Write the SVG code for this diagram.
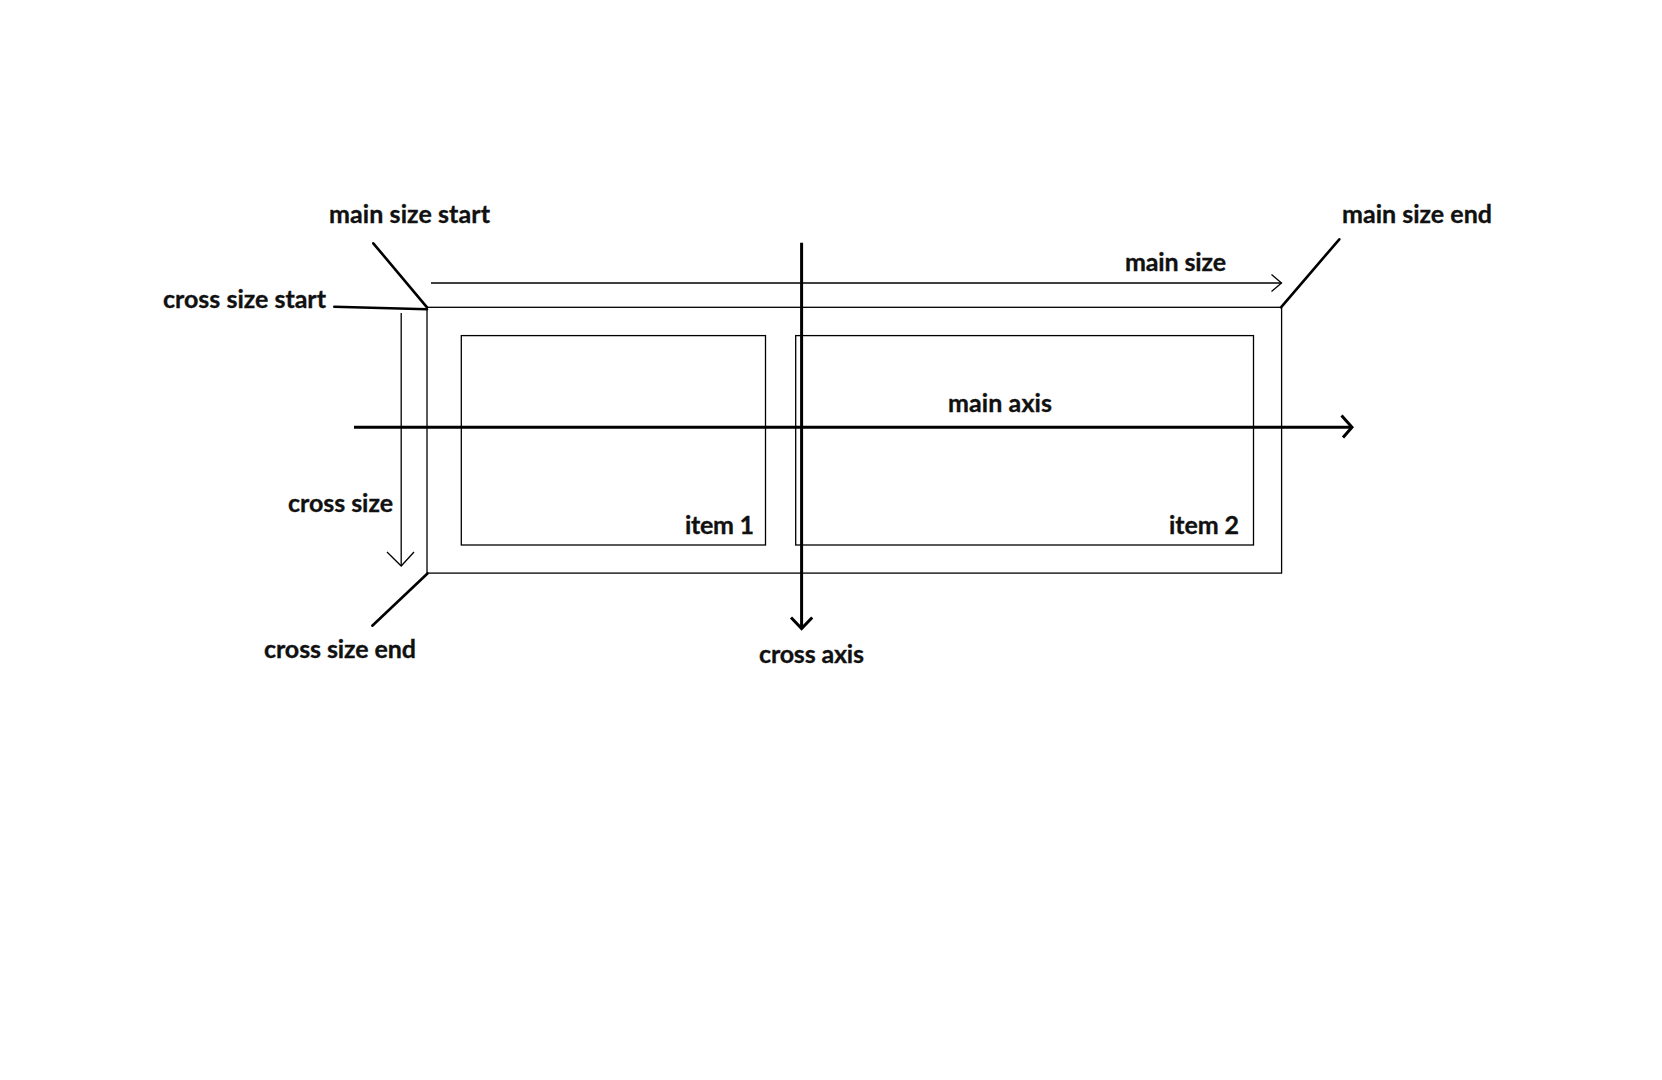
<svg xmlns="http://www.w3.org/2000/svg" width="1662" height="1080" viewBox="0 0 1662 1080">
<style>
.t{font-family:Lato,"Open Sans","Liberation Sans",sans-serif;font-weight:bold;font-size:25px;fill:#111;stroke:#111;stroke-width:0.35}
.thin{stroke:#000;stroke-width:1.3;fill:none}
.thick{stroke:#000;stroke-width:3;fill:none;stroke-linecap:butt}
.lead{stroke:#000;stroke-width:2.6;fill:none;stroke-linecap:round}
</style>
<rect width="1662" height="1080" fill="#fff"/>
<g id="container"><rect class="thin" x="427" y="307.3" width="854.6" height="265.8"/></g>
<g id="item1"><rect class="thin" x="461.3" y="335.6" width="304.2" height="209.4"/><text class="t" x="685" y="533.5" textLength="69">item 1</text></g>
<g id="item2"><rect class="thin" x="795.7" y="335.6" width="457.8" height="209.4"/><text class="t" x="1169" y="533.5" textLength="70">item 2</text></g>
<g id="labels">
<text class="t" x="329" y="223.3" textLength="161">main size start</text>
<text class="t" x="163" y="308.3" textLength="163">cross size start</text>
<text class="t" x="1342" y="223.3" textLength="150">main size end</text>
<text class="t" x="1125" y="270.8" textLength="101">main size</text>
<text class="t" x="948" y="412.3" textLength="104">main axis</text>
<text class="t" x="288" y="512.3" textLength="105">cross size</text>
<text class="t" x="264" y="658.3" textLength="152">cross size end</text>
<text class="t" x="759" y="662.7" textLength="105">cross axis</text>
</g>
<g id="connectors">
<line class="thin" x1="431" y1="283" x2="1281.5" y2="283"/>
<polyline class="thin" points="1271.5,274.5 1281.5,283 1271.5,291.5"/>
<line class="thin" x1="401.2" y1="313" x2="401.2" y2="566"/>
<polyline class="thin" points="387,552 401.2,566 414,552"/>
<line class="thick" x1="354" y1="427.2" x2="1352" y2="427.2"/>
<polyline class="thick" points="1341.5,415.5 1352,427.2 1343,437.5"/>
<line class="thick" x1="801.6" y1="242.7" x2="801.6" y2="629"/>
<polyline class="thick" points="791,617.5 801.6,628.5 812.2,617.5"/>
<line class="lead" x1="373.3" y1="243.3" x2="427" y2="307.3"/>
<line class="lead" x1="334.3" y1="306.7" x2="427" y2="309.3"/>
<line class="lead" x1="1281" y1="307.3" x2="1339.3" y2="239.3"/>
<line class="lead" x1="427.5" y1="573.5" x2="372.3" y2="625.7"/>
</g>
</svg>
